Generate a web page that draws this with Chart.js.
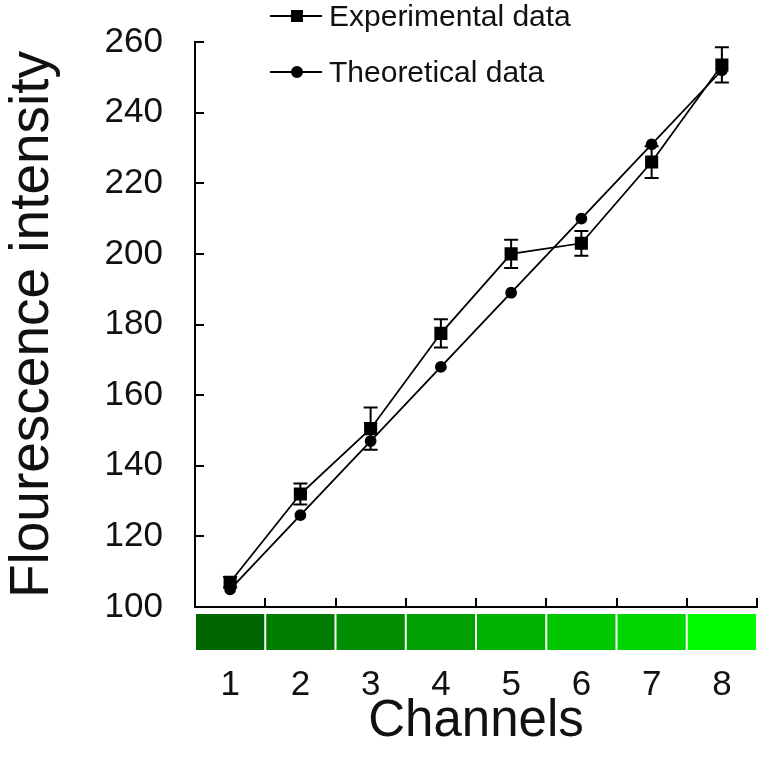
<!DOCTYPE html>
<html>
<head>
<meta charset="utf-8">
<script src="https://cdn.jsdelivr.net/npm/chart.js@4/dist/chart.umd.min.js"></script>
<style>
  body { margin: 0; background: #fff; }
  #wrap { width: 762px; height: 767px; }
</style>
</head>
<body>
<div id="wrap"><canvas id="chart"></canvas></div>
<script>
// values
var channels = ["1", "2", "3", "4", "5", "6", "7", "8"];
var experimental = [107, 132, 150.5, 177.5, 200, 203, 226, 253.5];
var expError = [1.5, 3, 6, 4, 4, 3.5, 4.5, 5];
var theoretical = [105, 126, 147, 168, 189, 210, 231, 252];
var yTicks = [100, 120, 140, 160, 180, 200, 220, 240, 260];
var channelColors = ["#006600", "#007d00", "#008e00", "#00a000", "#00b200", "#00c600", "#00d600", "#00fa00"];

var FONT = "'Liberation Sans', Arial, sans-serif";

// error bars on the experimental series
var errorBars = {
  id: "errorBars",
  afterDatasetsDraw(chart) {
    const ctx = chart.ctx;
    const y = chart.scales.y;
    const meta = chart.getDatasetMeta(0);
    ctx.save();
    ctx.strokeStyle = "#000";
    ctx.lineWidth = 2;
    meta.data.forEach((pt, i) => {
      const top = y.getPixelForValue(experimental[i] + expError[i]);
      const bot = y.getPixelForValue(experimental[i] - expError[i]);
      ctx.beginPath();
      ctx.moveTo(pt.x, top); ctx.lineTo(pt.x, bot);
      ctx.moveTo(pt.x - 7, top); ctx.lineTo(pt.x + 7, top);
      ctx.moveTo(pt.x - 7, bot); ctx.lineTo(pt.x + 7, bot);
      ctx.stroke();
    });
    ctx.restore();
  }
};

// inward tick marks + the green channel strip under the x axis
var axisExtras = {
  id: "axisExtras",
  afterDraw(chart) {
    const ctx = chart.ctx;
    const x = chart.scales.x, y = chart.scales.y;
    const area = chart.chartArea;
    const half = (x.getPixelForValue(1) - x.getPixelForValue(0)) / 2;
    ctx.save();
    ctx.strokeStyle = "#000";
    ctx.lineWidth = 2;
    ctx.beginPath();
    yTicks.forEach(v => {
      const py = Math.round(y.getPixelForValue(v));
      ctx.moveTo(area.left, py); ctx.lineTo(area.left + 9, py);
    });
    channels.forEach((c, i) => {
      const px = Math.round(x.getPixelForValue(i) + half);
      ctx.moveTo(px, area.bottom); ctx.lineTo(px, area.bottom - 9);
    });
    ctx.stroke();

    channels.forEach((c, i) => {
      const cx = x.getPixelForValue(i);
      ctx.fillStyle = channelColors[i];
      ctx.fillRect(cx - half + 1, area.bottom + 7, half * 2 - 2, 36);
    });
    ctx.restore();
  }
};

// legend drawn over the plot, as in the figure
var overlayLegend = {
  id: "overlayLegend",
  afterDraw(chart) {
    const ctx = chart.ctx;
    const rows = [
      { label: "Experimental data", y: 16, style: "rect", r: 7 },
      { label: "Theoretical data", y: 72, style: "circle", r: 5 }
    ];
    ctx.save();
    rows.forEach(row => {
      ctx.strokeStyle = "#000";
      ctx.lineWidth = 2;
      ctx.beginPath();
      ctx.moveTo(270, row.y); ctx.lineTo(322, row.y);
      ctx.stroke();
      ctx.fillStyle = "#000";
      Chart.helpers.drawPoint(ctx, { pointStyle: row.style, radius: row.r, borderWidth: 1 }, 297, row.y);
      ctx.fillStyle = "#111";
      ctx.font = "30px " + FONT;
      ctx.textBaseline = "middle";
      ctx.textAlign = "left";
      ctx.fillText(row.label, 329, row.y + 2);
    });
    ctx.restore();
  }
};

new Chart(document.getElementById("chart"), {
  type: "line",
  data: {
    labels: channels,
    datasets: [
      {
        label: "Experimental data",
        data: experimental,
        borderColor: "#000",
        borderWidth: 1.8,
        backgroundColor: "#000",
        pointStyle: "rect",
        pointRadius: 8,
        pointBackgroundColor: "#000",
        pointBorderColor: "#000",
        tension: 0
      },
      {
        label: "Theoretical data",
        data: theoretical,
        borderColor: "#000",
        borderWidth: 1.8,
        backgroundColor: "#000",
        pointStyle: "circle",
        pointRadius: 5,
        pointBackgroundColor: "#000",
        pointBorderColor: "#000",
        tension: 0
      }
    ]
  },
  options: {
    responsive: true,
    maintainAspectRatio: false,
    animation: false,
    layout: { autoPadding: false, padding: { top: 42, right: 5, left: 0, bottom: 0 } },
    plugins: {
      legend: { display: false },
      tooltip: { enabled: false }
    },
    scales: {
      x: {
        type: "category",
        offset: true,
        afterFit(scale) {
          scale.height = 160;
          scale.paddingLeft = 0; scale.paddingRight = 0;
        },
        grid: { display: false, drawTicks: false },
        border: { display: true, color: "#000", width: 2 },
        ticks: { color: "#111", font: { family: FONT, size: 35 }, padding: 57, maxRotation: 0 },
        title: {
          display: true, text: "Channels", color: "#111",
          font: { family: FONT, size: 51 }, padding: { top: 0, bottom: 14 }
        }
      },
      y: {
        min: 100, max: 260,
        afterFit(scale) {
          scale.width = 195;
          scale.paddingTop = 0; scale.paddingBottom = 0;
        },
        afterBuildTicks(scale) { scale.ticks = yTicks.map(v => ({ value: v })); },
        grid: { display: false, drawTicks: false },
        border: { display: true, color: "#000", width: 2 },
        ticks: { color: "#111", font: { family: FONT, size: 35 }, padding: 32 },
        title: {
          display: true, text: "Flourescence intensity", color: "#111",
          font: { family: FONT, size: 55 }, padding: { top: 0, bottom: 0 }
        }
      }
    }
  },
  plugins: [errorBars, axisExtras, overlayLegend]
});
</script>
</body>
</html>
